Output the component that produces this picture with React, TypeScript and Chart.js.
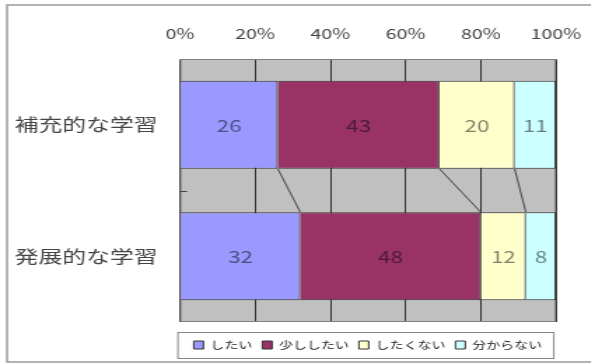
import React, { useEffect, useRef } from "react";
import { Chart, registerables } from "chart.js";

Chart.register(...registerables);

// ---- data ----
const categories = ["補充的な学習", "発展的な学習"];
const seriesNames = ["したい", "少ししたい", "したくない", "分からない"];
const wantValues = [26, 32];
const slightlyWantValues = [43, 48];
const dontWantValues = [20, 12];
const unknownValues = [11, 8];
const seriesColors = ["#9999FF", "#993366", "#FFFFCC", "#CCFFFF"];
const xTickValues = [0, 20, 40, 60, 80, 100];

// ---- look ----
const SX = 1.4; // horizontal stretch of the whole picture
const W = 422;
const H = 364;
const FONT = "'Noto Sans CJK JP', 'Noto Sans', sans-serif";
const LEG_SHIFT = 11;

const decor = {
  id: "decor",
  beforeDraw(chart: any) {
    const { ctx, chartArea: a } = chart;
    ctx.save();
    ctx.fillStyle = "#ffffff";
    ctx.fillRect(0, 0, chart.width, chart.height);
    ctx.strokeStyle = "#9a9a9a";
    ctx.lineWidth = 1.5;
    ctx.strokeRect(5, 5, chart.width + 20, 357);
    ctx.fillStyle = "#c0c0c0";
    ctx.fillRect(a.left, a.top, a.right - a.left, a.bottom - a.top);
    ctx.restore();
  },
  afterLayout(chart: any) {
    const lg = chart.legend;
    if (lg) {
      lg.top += LEG_SHIFT;
      lg.bottom += LEG_SHIFT;
    }
  },
  beforeDatasetsDraw(chart: any) {
    const { ctx, chartArea: a, scales } = chart;
    ctx.save();
    ctx.strokeStyle = "#808080";
    ctx.lineWidth = 1;
    ctx.strokeRect(a.left + 0.5, a.top + 0.5, a.right - a.left - 1, a.bottom - a.top - 1);
    // small category-boundary tick
    const yb = (scales.y.getPixelForValue(0) + scales.y.getPixelForValue(1)) / 2;
    ctx.strokeStyle = "#444";
    ctx.beginPath();
    ctx.moveTo(a.left, Math.round(yb) + 0.5);
    ctx.lineTo(a.left + 5, Math.round(yb) + 0.5);
    ctx.stroke();
    ctx.restore();
  },
  afterDatasetsDraw(chart: any) {
    const { ctx } = chart;
    ctx.save();
    // series lines
    ctx.strokeStyle = "#444";
    ctx.lineWidth = 1;
    ctx.beginPath();
    for (let d = 0; d < chart.data.datasets.length - 1; d++) {
      const m = chart.getDatasetMeta(d);
      const e0 = m.data[0] as any;
      const e1 = m.data[1] as any;
      ctx.moveTo(e0.x, e0.y + e0.height / 2);
      ctx.lineTo(e1.x, e1.y - e1.height / 2);
    }
    ctx.stroke();
    // value labels
    ctx.font = `16px ${FONT}`;
    ctx.textAlign = "center";
    ctx.textBaseline = "middle";
    ctx.fillStyle = "rgba(0,0,0,0.5)";
    chart.data.datasets.forEach((ds: any, d: number) => {
      const m = chart.getDatasetMeta(d);
      m.data.forEach((e: any, i: number) => {
        ctx.fillText(String(ds.data[i]), (e.x + e.base) / 2, e.y + 1);
      });
    });
    ctx.restore();
  },
  afterDraw(chart: any) {
    const lg = chart.legend;
    if (!lg || !lg.legendHitBoxes || !lg.legendHitBoxes.length) return;
    const hb = lg.legendHitBoxes;
    const a = chart.chartArea;
    const top = hb[0].top;
    const { ctx } = chart;
    ctx.save();
    ctx.strokeStyle = "#888";
    ctx.lineWidth = 1;
    ctx.strokeRect(a.left - 2 + 0.5, top - 8 + 0.5, a.right - a.left, hb[0].height + 16);
    ctx.restore();
  },
};

export default function App() {
  const ref = useRef<HTMLCanvasElement | null>(null);

  useEffect(() => {
    const canvas = ref.current;
    if (!canvas) return;
    const seriesData = [wantValues, slightlyWantValues, dontWantValues, unknownValues];
    const chart = new Chart(canvas, {
      type: "bar",
      data: {
        labels: categories,
        datasets: seriesNames.map((name, i) => ({
          label: name,
          data: seriesData[i],
          backgroundColor: seriesColors[i],
          borderColor: "#333",
          borderWidth: 1,
          barPercentage: 0.67,
          categoryPercentage: 1,
        })),
      },
      options: {
        indexAxis: "y",
        responsive: false,
        animation: false,
        devicePixelRatio: 1,
        layout: { padding: { top: 0, left: 0, right: W - 397.1, bottom: 15 } },
        scales: {
          x: {
            position: "top",
            stacked: true,
            min: 0,
            max: 100,
            afterBuildTicks(scale: any) {
              scale.ticks = xTickValues.map((v) => ({ value: v }));
            },
            afterFit(scale: any) {
              scale.height = 59;
              scale.paddingLeft = 0;
              scale.paddingRight = 0;
            },
            ticks: {
              callback: (v: any) => `${v}%`,
              font: { family: FONT, size: 14 },
              color: "#444",
              padding: 17,
              maxRotation: 0,
              autoSkip: false,
            },
            grid: { color: "#333", lineWidth: 1, drawTicks: false },
            border: { display: true, color: "#808080" },
          },
          y: {
            stacked: true,
            afterFit(scale: any) {
              scale.width = 128.6;
              scale.paddingTop = 0;
              scale.paddingBottom = 0;
            },
            ticks: {
              font: { family: FONT, size: 17 },
              color: "#444",
              padding: 16,
            },
            grid: { display: false, drawTicks: false },
            border: { display: false },
          },
        },
        plugins: {
          legend: {
            position: "bottom",
            fullSize: false,
            labels: {
              boxWidth: 7,
              boxHeight: 8,
              padding: 7,
              color: "#222",
              font: { family: FONT, size: 10 },
            },
          },
          tooltip: { enabled: false },
        },
      },
      plugins: [decor],
    });
    return () => chart.destroy();
  }, []);

  return (
    <div
      style={{
        position: "absolute",
        left: 0,
        top: 0,
        width: W,
        height: H,
        transform: `scaleX(${SX})`,
        transformOrigin: "0 0",
      }}
    >
      <canvas ref={ref} width={W} height={H} style={{ display: "block" }} />
    </div>
  );
}
